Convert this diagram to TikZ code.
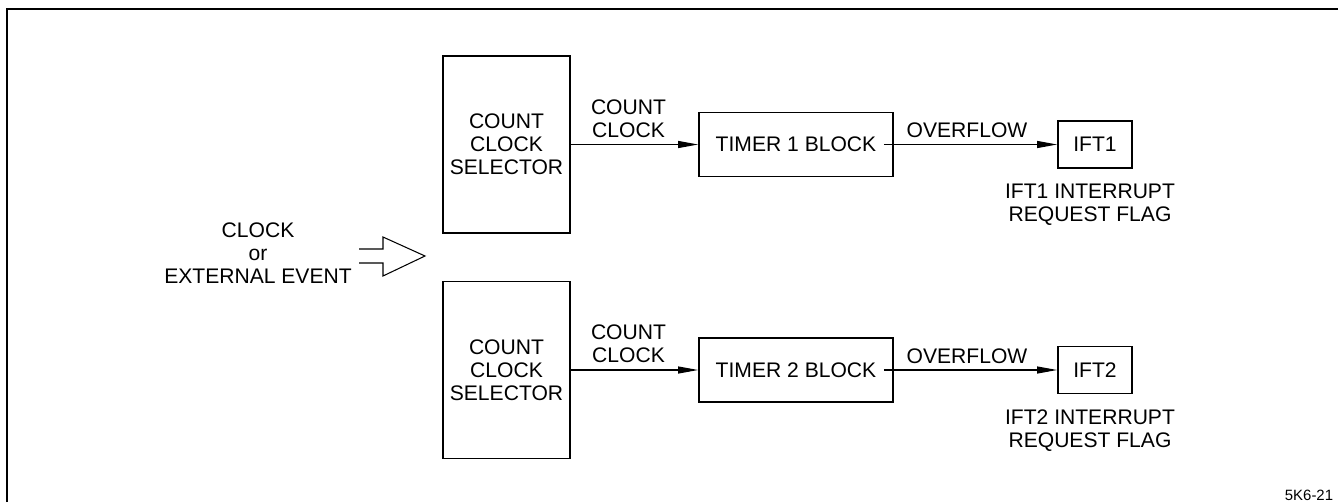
\documentclass[tikz,border=0pt]{standalone}
\usepackage{fontspec}
\setmainfont{Liberation Sans}
\usetikzlibrary{arrows.meta,positioning}

\begin{document}
\begin{tikzpicture}[
  font=\fontsize{12}{13}\selectfont,
  bloque/.style={draw, line width=1pt, align=center, inner sep=0pt},
  flecha/.style={-{Triangle[length=0.4cm,width=0.14cm]}, line width=0.6pt},
  etiqueta/.style={align=center, inner sep=0pt}
]

  \useasboundingbox (0,0) rectangle (26.76,-10.04);

  % Marco abierto (arriba e izquierda)
  \draw[line width=1pt] (0.14,-10.04) -- (0.14,-0.18) -- (26.76,-0.18);

  % Entrada de reloj o evento externo
  \node[etiqueta] (entrada) at (5.16,-5.06) {CLOCK\\or\\EXTERNAL EVENT};
  \draw[line width=0.6pt] (7.18,-4.98) -- (7.66,-4.98) -- (7.66,-4.74)
    -- (8.50,-5.12) -- (7.66,-5.52) -- (7.66,-5.26) -- (7.18,-5.26);

  % Dos canales: selector, temporizador, bandera
  \foreach \n/\y in {1/-2.89, 2/-7.40}{
    \node[bloque, minimum width=2.54cm, minimum height=3.54cm]
      (sel\n) at (10.13,\y) {COUNT\\CLOCK\\SELECTOR};
    \node[bloque, minimum width=3.88cm, minimum height=1.28cm]
      (tim\n) at (15.92,\y) {TIMER \n\ BLOCK};
    \node[bloque, minimum width=1.48cm, minimum height=0.94cm]
      (ift\n) at (21.90,\y) {IFT\n};

    \draw[flecha] (sel\n) -- node[etiqueta, above=0.13cm, xshift=-0.12cm] {COUNT\\CLOCK} (tim\n);
    \draw[flecha] (tim\n.east) ++(-0.2,0) -- node[etiqueta, above=0.12cm, xshift=-0.07cm] {OVERFLOW} (ift\n);

    \node[etiqueta, below=0.3cm of ift\n, xshift=-0.1cm] {IFT\n\ INTERRUPT\\REQUEST FLAG};
  }

  % Referencia de la figura
  \node[font=\fontsize{8.5}{10}\selectfont, inner sep=0pt] (ref) at (26.18,-9.90) {5K6-21};

\end{tikzpicture}
\end{document}
